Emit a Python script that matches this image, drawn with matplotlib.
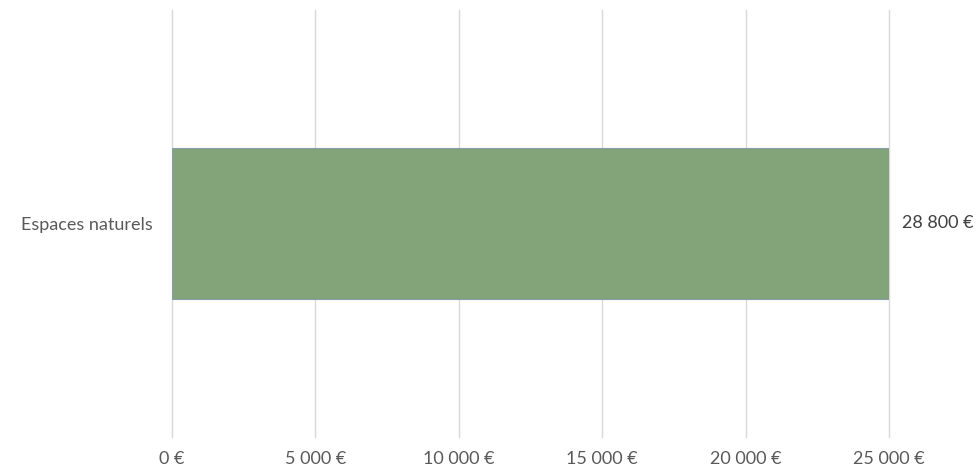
import matplotlib
matplotlib.use("Agg")
import matplotlib.pyplot as plt
import numpy as np

categories = ["Espaces naturels"]
values = [28800]
xticks = [0, 5000, 10000, 15000, 20000, 25000]


def euro(v):
    return f"{v:,.0f} €".replace(",", " ")


plt.rcParams['font.family'] = ['Lato', 'DejaVu Sans']

fig = plt.figure(figsize=(9.79, 4.74), dpi=100)
ax = fig.add_axes([0.1757, 0.078, 0.908 - 0.1757, 0.979 - 0.078])

y = np.arange(len(categories))
ax.barh(y, values, height=0.354, color='#82A478', edgecolor='#8C9CA8', linewidth=0.8, zorder=3)

ax.set_xlim(0, 25000)
ax.set_ylim(-0.5, 0.5)
ax.set_xticks(xticks)
ax.set_xticklabels([euro(v) for v in xticks])
ax.set_yticks(y)
ax.set_yticklabels(categories)

for v, yy in zip(values, y):
    ax.annotate(euro(v), xy=(1, yy), xycoords=('axes fraction', 'data'),
                xytext=(13, 0), textcoords='offset pixels',
                va='center', ha='left', fontsize=13, color='#404040')

ax.grid(axis='x', color='#D9D9D9', linewidth=1, zorder=0)
for gl in ax.get_xgridlines():
    gl.set_clip_on(False)
for s in ax.spines.values():
    s.set_visible(False)
ax.tick_params(axis='both', length=0, labelsize=13, labelcolor='#595959')
ax.tick_params(axis='x', pad=10)
ax.tick_params(axis='y', pad=14)

fig.savefig("out.png", dpi=100)
